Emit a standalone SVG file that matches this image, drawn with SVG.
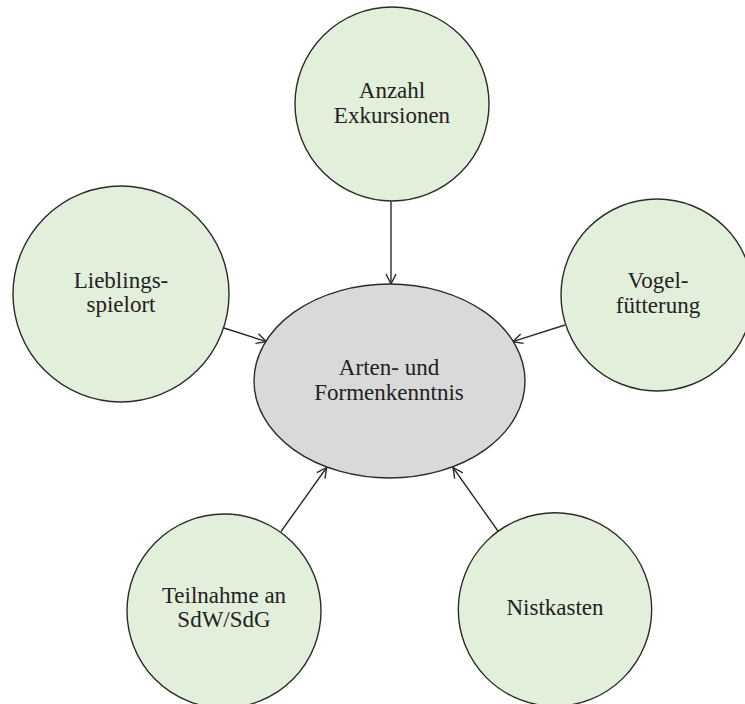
<svg xmlns="http://www.w3.org/2000/svg" width="745" height="704" viewBox="0 0 745 704">
  <style>
    .leaf { fill: #e2efda; stroke: #2b2b2b; stroke-width: 1.4; }
    .hub { fill: #d9d9d9; stroke: #2b2b2b; stroke-width: 1.4; }
    .lbl { font-family: 'Liberation Serif', 'Times New Roman', 'DejaVu Serif', serif; font-size: 23px; fill: #222; text-anchor: middle; }
    .edge { stroke: #2b2b2b; stroke-width: 1.4; fill: none; marker-end: url(#vhead); }
  </style>
  <defs>
    <marker id="vhead" viewBox="-12 -7 13 14" refX="0" refY="0" markerWidth="13" markerHeight="14" markerUnits="userSpaceOnUse" orient="auto">
      <path d="M-10,-5 L0,0 L-10,5" fill="none" stroke="#2b2b2b" stroke-width="1.4"/>
    </marker>
  </defs>
  <rect width="745" height="704" fill="#ffffff"/>

  <g id="connectors">
    <line class="edge" x1="391" y1="201" x2="391" y2="284"/>
    <line class="edge" x1="224" y1="328" x2="266.5" y2="341.7"/>
    <line class="edge" x1="565" y1="325" x2="512.7" y2="341.7"/>
    <line class="edge" x1="281" y1="531.5" x2="326.7" y2="467.5"/>
    <line class="edge" x1="498.3" y1="531.5" x2="453" y2="467.5"/>
  </g>

  <g id="hub">
    <ellipse class="hub" cx="389.5" cy="381" rx="135.5" ry="97"/>
    <text class="lbl" x="389" y="375">Arten- und</text>
    <text class="lbl" x="389" y="400">Formenkenntnis</text>
  </g>

  <g id="node-exkursionen">
    <circle class="leaf" cx="392" cy="104" r="97"/>
    <text class="lbl" x="392" y="98">Anzahl</text>
    <text class="lbl" x="392" y="123">Exkursionen</text>
  </g>

  <g id="node-spielort">
    <circle class="leaf" cx="121" cy="294" r="108"/>
    <text class="lbl" x="121" y="288">Lieblings-</text>
    <text class="lbl" x="121" y="312">spielort</text>
  </g>

  <g id="node-vogelfuetterung">
    <circle class="leaf" cx="657" cy="295" r="96"/>
    <text class="lbl" x="658" y="288">Vogel-</text>
    <text class="lbl" x="658" y="313">fütterung</text>
  </g>

  <g id="node-teilnahme">
    <circle class="leaf" cx="224" cy="611" r="97"/>
    <text class="lbl" x="224" y="603">Teilnahme an</text>
    <text class="lbl" x="224" y="627">SdW/SdG</text>
  </g>

  <g id="node-nistkasten">
    <circle class="leaf" cx="555" cy="609.5" r="96.7"/>
    <text class="lbl" x="555" y="615">Nistkasten</text>
  </g>
</svg>
